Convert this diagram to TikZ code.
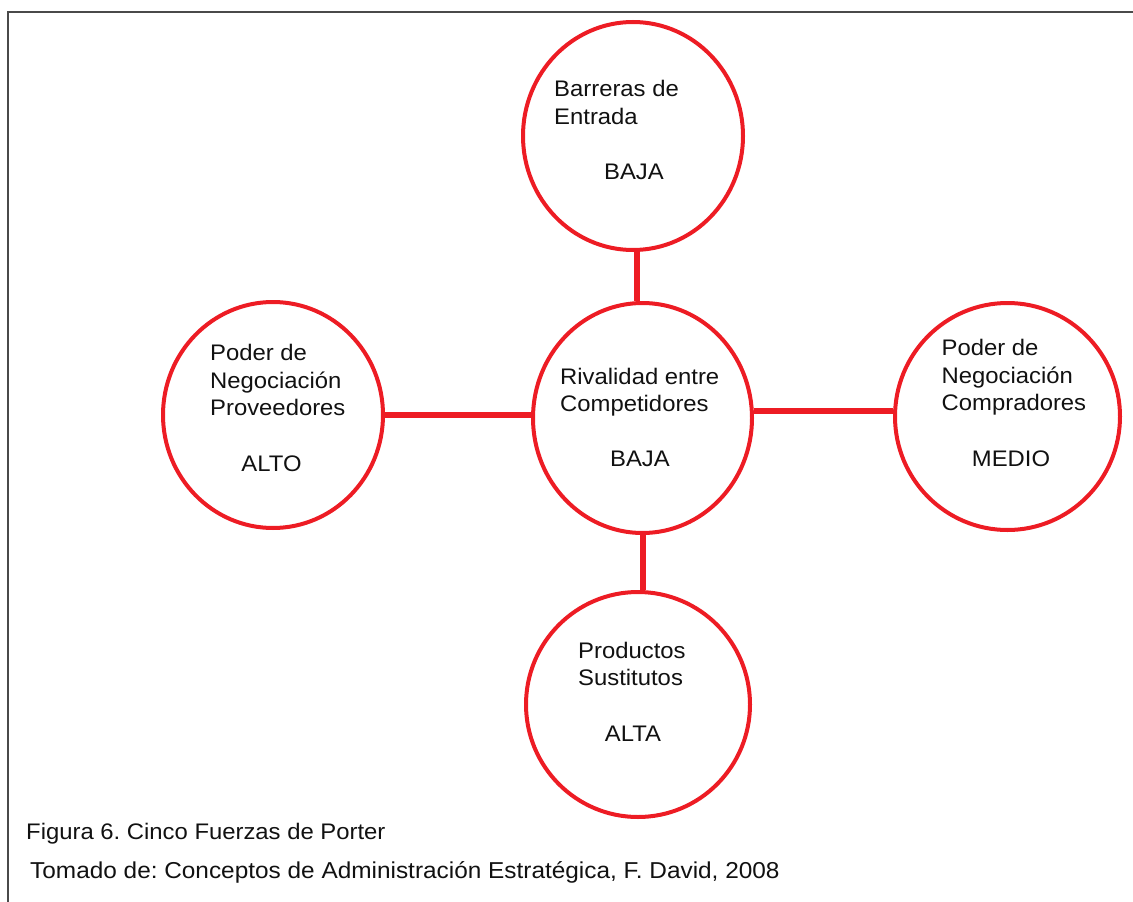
\documentclass[tikz,border=0pt]{standalone}
\usepackage{fontspec}
\setmainfont[FakeStretch=1.06]{Liberation Sans}
\usetikzlibrary{shapes.geometric}
\definecolor{porterred}{HTML}{ED1C24}
\definecolor{framegray}{HTML}{4A4A4A}
\definecolor{inkblack}{HTML}{111111}
\frenchspacing

\begin{document}
\begin{tikzpicture}[x=1pt,y=-1pt,
  force/.style={ellipse, draw=porterred, line width=4pt, inner sep=0pt},
  link/.style={draw=porterred, line width=6pt},
  txt/.style={anchor=base west, inner sep=0pt, text=inkblack,
              font=\fontsize{22.5}{27}\selectfont},
  lvl/.style={anchor=base, inner sep=0pt, text=inkblack,
              font=\fontsize{22.5}{27}\selectfont}]
\useasboundingbox (0,0) rectangle (1133,902);

% frame
\draw[framegray, line width=2pt] (7.5,902) -- (7.5,11.8) -- (1133,11.8);

% the five forces
\node[force, minimum width=220pt, minimum height=228pt] (entry)    at (633,136)   {};
\node[force, minimum width=219pt, minimum height=230pt] (rival)    at (642.5,418) {};
\node[force, minimum width=220pt, minimum height=226pt] (supplier) at (273,415)   {};
\node[force, minimum width=225pt, minimum height=227pt] (buyer)    at (1007.5,416.5) {};
\node[force, minimum width=224pt, minimum height=225pt] (subst)    at (638,704.5) {};

% connectors
\draw[link] ([xshift=4pt]entry.south) -- ([xshift=-5.5pt]rival.north);
\draw[link] (supplier.east) -- (supplier.east -| rival.west);
\draw[link] ([yshift=7pt]rival.east) -- ([yshift=7pt]rival.east -| buyer.west);
\draw[link] ([xshift=0.5pt]rival.south) -- ([xshift=0.5pt]rival.south |- subst.north);

% labels
\node[txt] (entryA) at (554,96)  {Barreras de};
\node[txt] (entryB) at (554,124) {Entrada};
\node[lvl] (entryL) at (634,179) {BAJA};

\node[txt] (rivalA) at (560,384) {Rivalidad entre};
\node[txt] (rivalB) at (560,411) {Competidores};
\node[lvl] (rivalL) at (640,466) {BAJA};

\node[txt] (suppA) at (210,360) {Poder de};
\node[txt] (suppB) at (210,388) {Negociación};
\node[txt] (suppC) at (210,415) {Proveedores};
\node[lvl] (suppL) at (271.5,471) {ALTO};

\node[txt] (buyA) at (941.5,355) {Poder de};
\node[txt] (buyB) at (941.5,383) {Negociación};
\node[txt] (buyC) at (941.5,410) {Compradores};
\node[lvl] (buyL) at (1011,466) {MEDIO};

\node[txt] (subA) at (578,658) {Productos};
\node[txt] (subB) at (578,685) {Sustitutos};
\node[lvl] (subL) at (633,741) {ALTA};

% caption
\node[txt] (capA) at (26,839) {Figura 6. Cinco Fuerzas de Porter};
\node[txt, font=\fontsize{23}{27}\selectfont] (capB) at (30,878)
  {Tomado de: Conceptos de Administración Estratégica, F. David, 2008};
\end{tikzpicture}
\end{document}
